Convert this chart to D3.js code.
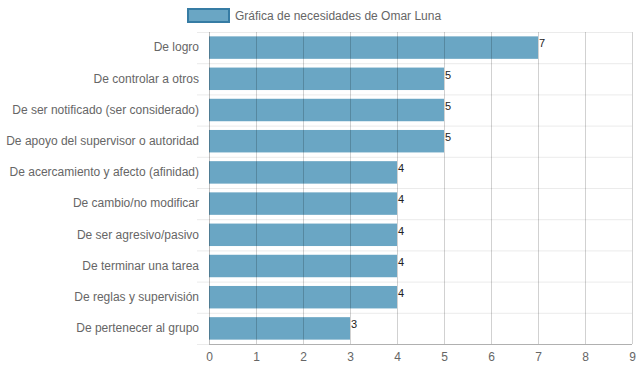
<!DOCTYPE html>
<html>
<head>
<meta charset="utf-8">
<script src="https://cdn.jsdelivr.net/npm/d3@7"></script>
<style>
  body { margin: 0; background: #fff; }
  svg { display: block; font-family: "Liberation Sans", Arial, Helvetica, sans-serif; }
</style>
</head>
<body>
<svg id="chart" width="639" height="372"></svg>
<script>
const categories = [
  'De logro',
  'De controlar a otros',
  'De ser notificado (ser considerado)',
  'De apoyo del supervisor o autoridad',
  'De acercamiento y afecto (afinidad)',
  'De cambio/no modificar',
  'De ser agresivo/pasivo',
  'De terminar una tarea',
  'De reglas y supervisión',
  'De pertenecer al grupo'
];
const values = [7, 5, 5, 5, 4, 4, 4, 4, 4, 3];
const xTicks = [0, 1, 2, 3, 4, 5, 6, 7, 8, 9];
const seriesName = 'Gráfica de necesidades de Omar Luna';

const svg = d3.select('#chart');
const margin = { top: 32, right: 7, bottom: 28, left: 209 };
const width = 639;
const height = 372;

const x = d3.scaleLinear()
  .domain([0, 9])
  .range([margin.left, width - margin.right]);

const y = d3.scaleBand()
  .domain(categories)
  .range([margin.top, height - margin.bottom])
  .paddingInner(0.28)
  .paddingOuter(0.14);

const band = (height - margin.bottom - margin.top) / categories.length;

// horizontal grid lines (category boundaries)
const rows = d3.range(categories.length + 1);
svg.append('g')
  .selectAll('line')
  .data(rows)
  .enter().append('line')
    .attr('x1', margin.left - 12)
    .attr('x2', width - margin.right)
    .attr('y1', (d) => { return margin.top + d * band + 0.5; })
    .attr('y2', (d) => { return margin.top + d * band + 0.5; })
    .attr('stroke', '#ebebeb')
    .attr('stroke-width', 1);

// bars
svg.append('g')
  .selectAll('rect')
  .data(values)
  .enter().append('rect')
    .attr('x', x(0))
    .attr('y', (d, i) => { return y(categories[i]); })
    .attr('width', (d) => { return x(d) - x(0); })
    .attr('height', y.bandwidth())
    .attr('fill', 'rgb(106,166,196)');

// vertical grid lines, drawn over the bars like the translucent original
svg.append('g')
  .selectAll('line')
  .data(xTicks.slice(1))
  .enter().append('line')
    .attr('x1', (d) => { return Math.round(x(d)) + 0.5; })
    .attr('x2', (d) => { return Math.round(x(d)) + 0.5; })
    .attr('y1', margin.top)
    .attr('y2', height - margin.bottom)
    .attr('stroke', 'rgba(0,0,0,0.18)')
    .attr('stroke-width', 1);

// axis lines
svg.append('line')
  .attr('x1', margin.left + 0.5)
  .attr('x2', margin.left + 0.5)
  .attr('y1', margin.top)
  .attr('y2', height - margin.bottom)
  .attr('stroke', 'rgba(0,0,0,0.25)');

svg.append('line')
  .attr('x1', margin.left)
  .attr('x2', width - margin.right)
  .attr('y1', height - margin.bottom + 0.5)
  .attr('y2', height - margin.bottom + 0.5)
  .attr('stroke', 'rgba(0,0,0,0.25)');

// x tick labels
const xAxis = svg.append('g')
  .attr('transform', `translate(0,${height - margin.bottom})`)
  .call(d3.axisBottom(x).tickValues(xTicks).tickSize(0).tickPadding(8));
xAxis.select('.domain').remove();
xAxis.selectAll('text')
  .attr('fill', '#666')
  .style('font-size', '12px')
  .style('font-family', '"Liberation Sans", Arial, sans-serif');

// y tick labels
const yAxis = svg.append('g')
  .attr('transform', `translate(${margin.left},0)`)
  .call(d3.axisLeft(y).tickSize(0).tickPadding(10));
yAxis.select('.domain').remove();
yAxis.selectAll('text')
  .attr('fill', '#666')
  .style('font-size', '12px')
  .style('font-family', '"Liberation Sans", Arial, sans-serif');

// value labels
svg.append('g')
  .selectAll('text')
  .data(values)
  .enter().append('text')
    .attr('x', (d) => { return x(d) + 1; })
    .attr('y', (d, i) => { return y(categories[i]) + y.bandwidth() / 2 - 4; })
    .attr('dy', '0.35em')
    .attr('fill', '#222')
    .style('font-size', '11px')
    .text((d) => { return d; });

// legend
const legend = svg.append('g');
legend.append('rect')
  .attr('x', 188)
  .attr('y', 9)
  .attr('width', 41)
  .attr('height', 13)
  .attr('fill', 'rgb(106,166,196)')
  .attr('stroke', 'rgb(54,124,164)')
  .attr('stroke-width', 2);
legend.append('text')
  .attr('x', 235)
  .attr('y', 15.5)
  .attr('dy', '0.35em')
  .attr('fill', '#666')
  .style('font-size', '12px')
  .text(seriesName);
</script>
</body>
</html>
